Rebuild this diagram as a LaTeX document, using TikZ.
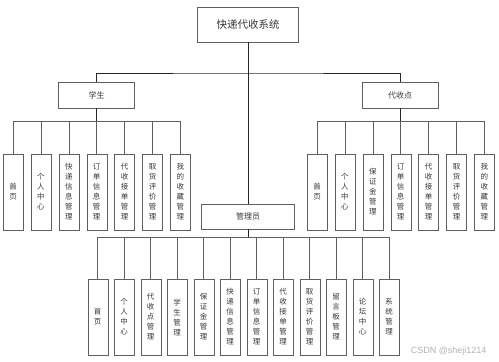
\documentclass[tikz,border=0pt]{standalone}
\usepackage{fontspec}
\setmainfont{Noto Sans CJK SC}
\newfontfamily\markfont{Liberation Sans}
\usetikzlibrary{positioning}
\definecolor{LineGray}{RGB}{95,95,95}
\definecolor{TextGray}{RGB}{55,55,55}

\begin{document}
\begin{tikzpicture}[x=1pt,y=-1pt,
        rootnode/.style={draw=LineGray,minimum width=101pt,minimum height=35pt,
                         font=\fontsize{10.5}{12}\selectfont,text=TextGray,inner sep=0pt},
        rolenode/.style={draw=LineGray,minimum width=76pt,minimum height=26pt,
                         font=\fontsize{8}{10}\selectfont,text=TextGray,inner sep=0pt},
        leafnode/.style={draw=LineGray,minimum width=20pt,minimum height=76pt,
                         font=\fontsize{7.5}{10}\selectfont,text=TextGray,
                         align=center,inner sep=0pt},
        conn/.style={draw=LineGray,line width=0.6pt},
        trunk/.style={draw=black!85,line width=0.9pt}
      ]
        \useasboundingbox (0,0) rectangle (499,362);
        \node[rootnode] (sys) at (248,24.5) {快递代收系统};
        \node[rolenode] (stu) at (96.5,95) {学生};
        \node[rolenode] (dsd) at (400,95) {代收点};
        \node[rolenode,minimum width=93pt,minimum height=25pt] (adm) at (248,216.5) {管理员};
        \coordinate (topbar) at (248,73);
        \coordinate (stubar) at (96.5,121);
        \coordinate (dsdbar) at (400,121);
        \coordinate (admbar) at (248,237);
        % leaves
        \foreach \t [count=\i] in {{首\\页},{个\\人\\中\\心},{快\\递\\信\\息\\管\\理},
            {订\\单\\信\\息\\管\\理},{代\\收\\接\\单\\管\\理},{取\\货\\评\\价\\管\\理},
            {我\\的\\收\\藏\\管\\理}}
          \node[leafnode] (s\i) at ({13+27.9*(\i-1)},192) {\t};
        \foreach \t [count=\i] in {{首\\页},{个\\人\\中\\心},{保\\证\\金\\管\\理},
            {订\\单\\信\\息\\管\\理},{代\\收\\接\\单\\管\\理},{取\\货\\评\\价\\管\\理},
            {我\\的\\收\\藏\\管\\理}}
          \node[leafnode] (d\i) at ({317+27.9*(\i-1)},192) {\t};
        \foreach \t [count=\i] in {{首\\页},{个\\人\\中\\心},{代\\收\\点\\管\\理},
            {学\\生\\管\\理},{保\\证\\金\\管\\理},{快\\递\\信\\息\\管\\理},
            {订\\单\\信\\息\\管\\理},{代\\收\\接\\单\\管\\理},{取\\货\\评\\价\\管\\理},
            {留\\言\\板\\管\\理},{论\\坛\\中\\心},{系\\统\\管\\理}}
          \node[leafnode] (a\i) at ({97.7+26.5*(\i-1)},317) {\t};
        % connectors
        \draw[trunk] (sys) -- (adm);
        \draw[trunk] (stu.north) |- (topbar) -| (dsd.north);
        \draw[trunk] (stu) -- (stubar); \draw[trunk] (dsd) -- (dsdbar);
        \draw[trunk] (adm) -- (admbar);
        \foreach \i in {1,...,7} {\draw[conn] (s\i.north) |- (stubar);
                                  \draw[conn] (d\i.north) |- (dsdbar);}
        \foreach \i in {1,...,12} \draw[conn] (a\i.north) |- (admbar);
        \node[font=\markfont\fontsize{9}{10}\selectfont,text=black!30,anchor=east]
          (mark) at (490,351) {CSDN @sheji1214};
      \end{tikzpicture}
\end{document}
